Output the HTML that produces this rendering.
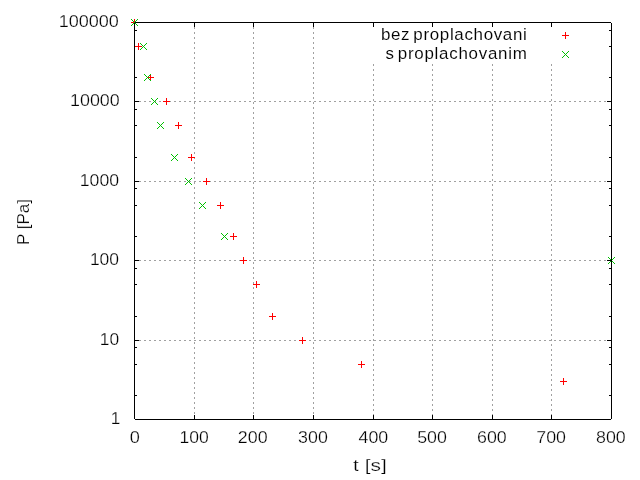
<!DOCTYPE html>
<html><head><meta charset="utf-8"><title>plot</title>
<style>html,body{margin:0;padding:0;background:#fff;}svg{display:block;}text{font-family:"Liberation Sans",sans-serif;fill:#000;stroke:#fff;stroke-width:0.25px;}svg{will-change:transform;}</style>
</head><body>
<svg width="640" height="480" viewBox="0 0 640 480">
<rect x="0" y="0" width="640" height="480" fill="#fff"/>
<g fill="#a0a0a0" shape-rendering="crispEdges">
<path d="M134 340h2v1h-2zM139 340h2v1h-2zM144 340h2v1h-2zM149 340h2v1h-2zM154 340h2v1h-2zM159 340h2v1h-2zM164 340h2v1h-2zM169 340h2v1h-2zM174 340h2v1h-2zM179 340h2v1h-2zM184 340h2v1h-2zM189 340h2v1h-2zM194 340h2v1h-2zM199 340h2v1h-2zM204 340h2v1h-2zM209 340h2v1h-2zM214 340h2v1h-2zM219 340h2v1h-2zM224 340h2v1h-2zM229 340h2v1h-2zM234 340h2v1h-2zM239 340h2v1h-2zM244 340h2v1h-2zM249 340h2v1h-2zM254 340h2v1h-2zM259 340h2v1h-2zM264 340h2v1h-2zM269 340h2v1h-2zM274 340h2v1h-2zM279 340h2v1h-2zM284 340h2v1h-2zM289 340h2v1h-2zM294 340h2v1h-2zM299 340h2v1h-2zM304 340h2v1h-2zM309 340h2v1h-2zM314 340h2v1h-2zM319 340h2v1h-2zM324 340h2v1h-2zM329 340h2v1h-2zM334 340h2v1h-2zM339 340h2v1h-2zM344 340h2v1h-2zM349 340h2v1h-2zM354 340h2v1h-2zM359 340h2v1h-2zM364 340h2v1h-2zM369 340h2v1h-2zM374 340h2v1h-2zM379 340h2v1h-2zM384 340h2v1h-2zM389 340h2v1h-2zM394 340h2v1h-2zM399 340h2v1h-2zM404 340h2v1h-2zM409 340h2v1h-2zM414 340h2v1h-2zM419 340h2v1h-2zM424 340h2v1h-2zM429 340h2v1h-2zM434 340h2v1h-2zM439 340h2v1h-2zM444 340h2v1h-2zM449 340h2v1h-2zM454 340h2v1h-2zM459 340h2v1h-2zM464 340h2v1h-2zM469 340h2v1h-2zM474 340h2v1h-2zM479 340h2v1h-2zM484 340h2v1h-2zM489 340h2v1h-2zM494 340h2v1h-2zM499 340h2v1h-2zM504 340h2v1h-2zM509 340h2v1h-2zM514 340h2v1h-2zM519 340h2v1h-2zM524 340h2v1h-2zM529 340h2v1h-2zM534 340h2v1h-2zM539 340h2v1h-2zM544 340h2v1h-2zM549 340h2v1h-2zM554 340h2v1h-2zM559 340h2v1h-2zM564 340h2v1h-2zM569 340h2v1h-2zM574 340h2v1h-2zM579 340h2v1h-2zM584 340h2v1h-2zM589 340h2v1h-2zM594 340h2v1h-2zM599 340h2v1h-2zM604 340h2v1h-2zM609 340h2v1h-2zM134 260h2v1h-2zM139 260h2v1h-2zM144 260h2v1h-2zM149 260h2v1h-2zM154 260h2v1h-2zM159 260h2v1h-2zM164 260h2v1h-2zM169 260h2v1h-2zM174 260h2v1h-2zM179 260h2v1h-2zM184 260h2v1h-2zM189 260h2v1h-2zM194 260h2v1h-2zM199 260h2v1h-2zM204 260h2v1h-2zM209 260h2v1h-2zM214 260h2v1h-2zM219 260h2v1h-2zM224 260h2v1h-2zM229 260h2v1h-2zM234 260h2v1h-2zM239 260h2v1h-2zM244 260h2v1h-2zM249 260h2v1h-2zM254 260h2v1h-2zM259 260h2v1h-2zM264 260h2v1h-2zM269 260h2v1h-2zM274 260h2v1h-2zM279 260h2v1h-2zM284 260h2v1h-2zM289 260h2v1h-2zM294 260h2v1h-2zM299 260h2v1h-2zM304 260h2v1h-2zM309 260h2v1h-2zM314 260h2v1h-2zM319 260h2v1h-2zM324 260h2v1h-2zM329 260h2v1h-2zM334 260h2v1h-2zM339 260h2v1h-2zM344 260h2v1h-2zM349 260h2v1h-2zM354 260h2v1h-2zM359 260h2v1h-2zM364 260h2v1h-2zM369 260h2v1h-2zM374 260h2v1h-2zM379 260h2v1h-2zM384 260h2v1h-2zM389 260h2v1h-2zM394 260h2v1h-2zM399 260h2v1h-2zM404 260h2v1h-2zM409 260h2v1h-2zM414 260h2v1h-2zM419 260h2v1h-2zM424 260h2v1h-2zM429 260h2v1h-2zM434 260h2v1h-2zM439 260h2v1h-2zM444 260h2v1h-2zM449 260h2v1h-2zM454 260h2v1h-2zM459 260h2v1h-2zM464 260h2v1h-2zM469 260h2v1h-2zM474 260h2v1h-2zM479 260h2v1h-2zM484 260h2v1h-2zM489 260h2v1h-2zM494 260h2v1h-2zM499 260h2v1h-2zM504 260h2v1h-2zM509 260h2v1h-2zM514 260h2v1h-2zM519 260h2v1h-2zM524 260h2v1h-2zM529 260h2v1h-2zM534 260h2v1h-2zM539 260h2v1h-2zM544 260h2v1h-2zM549 260h2v1h-2zM554 260h2v1h-2zM559 260h2v1h-2zM564 260h2v1h-2zM569 260h2v1h-2zM574 260h2v1h-2zM579 260h2v1h-2zM584 260h2v1h-2zM589 260h2v1h-2zM594 260h2v1h-2zM599 260h2v1h-2zM604 260h2v1h-2zM609 260h2v1h-2zM134 181h2v1h-2zM139 181h2v1h-2zM144 181h2v1h-2zM149 181h2v1h-2zM154 181h2v1h-2zM159 181h2v1h-2zM164 181h2v1h-2zM169 181h2v1h-2zM174 181h2v1h-2zM179 181h2v1h-2zM184 181h2v1h-2zM189 181h2v1h-2zM194 181h2v1h-2zM199 181h2v1h-2zM204 181h2v1h-2zM209 181h2v1h-2zM214 181h2v1h-2zM219 181h2v1h-2zM224 181h2v1h-2zM229 181h2v1h-2zM234 181h2v1h-2zM239 181h2v1h-2zM244 181h2v1h-2zM249 181h2v1h-2zM254 181h2v1h-2zM259 181h2v1h-2zM264 181h2v1h-2zM269 181h2v1h-2zM274 181h2v1h-2zM279 181h2v1h-2zM284 181h2v1h-2zM289 181h2v1h-2zM294 181h2v1h-2zM299 181h2v1h-2zM304 181h2v1h-2zM309 181h2v1h-2zM314 181h2v1h-2zM319 181h2v1h-2zM324 181h2v1h-2zM329 181h2v1h-2zM334 181h2v1h-2zM339 181h2v1h-2zM344 181h2v1h-2zM349 181h2v1h-2zM354 181h2v1h-2zM359 181h2v1h-2zM364 181h2v1h-2zM369 181h2v1h-2zM374 181h2v1h-2zM379 181h2v1h-2zM384 181h2v1h-2zM389 181h2v1h-2zM394 181h2v1h-2zM399 181h2v1h-2zM404 181h2v1h-2zM409 181h2v1h-2zM414 181h2v1h-2zM419 181h2v1h-2zM424 181h2v1h-2zM429 181h2v1h-2zM434 181h2v1h-2zM439 181h2v1h-2zM444 181h2v1h-2zM449 181h2v1h-2zM454 181h2v1h-2zM459 181h2v1h-2zM464 181h2v1h-2zM469 181h2v1h-2zM474 181h2v1h-2zM479 181h2v1h-2zM484 181h2v1h-2zM489 181h2v1h-2zM494 181h2v1h-2zM499 181h2v1h-2zM504 181h2v1h-2zM509 181h2v1h-2zM514 181h2v1h-2zM519 181h2v1h-2zM524 181h2v1h-2zM529 181h2v1h-2zM534 181h2v1h-2zM539 181h2v1h-2zM544 181h2v1h-2zM549 181h2v1h-2zM554 181h2v1h-2zM559 181h2v1h-2zM564 181h2v1h-2zM569 181h2v1h-2zM574 181h2v1h-2zM579 181h2v1h-2zM584 181h2v1h-2zM589 181h2v1h-2zM594 181h2v1h-2zM599 181h2v1h-2zM604 181h2v1h-2zM609 181h2v1h-2zM134 101h2v1h-2zM139 101h2v1h-2zM144 101h2v1h-2zM149 101h2v1h-2zM154 101h2v1h-2zM159 101h2v1h-2zM164 101h2v1h-2zM169 101h2v1h-2zM174 101h2v1h-2zM179 101h2v1h-2zM184 101h2v1h-2zM189 101h2v1h-2zM194 101h2v1h-2zM199 101h2v1h-2zM204 101h2v1h-2zM209 101h2v1h-2zM214 101h2v1h-2zM219 101h2v1h-2zM224 101h2v1h-2zM229 101h2v1h-2zM234 101h2v1h-2zM239 101h2v1h-2zM244 101h2v1h-2zM249 101h2v1h-2zM254 101h2v1h-2zM259 101h2v1h-2zM264 101h2v1h-2zM269 101h2v1h-2zM274 101h2v1h-2zM279 101h2v1h-2zM284 101h2v1h-2zM289 101h2v1h-2zM294 101h2v1h-2zM299 101h2v1h-2zM304 101h2v1h-2zM309 101h2v1h-2zM314 101h2v1h-2zM319 101h2v1h-2zM324 101h2v1h-2zM329 101h2v1h-2zM334 101h2v1h-2zM339 101h2v1h-2zM344 101h2v1h-2zM349 101h2v1h-2zM354 101h2v1h-2zM359 101h2v1h-2zM364 101h2v1h-2zM369 101h2v1h-2zM374 101h2v1h-2zM379 101h2v1h-2zM384 101h2v1h-2zM389 101h2v1h-2zM394 101h2v1h-2zM399 101h2v1h-2zM404 101h2v1h-2zM409 101h2v1h-2zM414 101h2v1h-2zM419 101h2v1h-2zM424 101h2v1h-2zM429 101h2v1h-2zM434 101h2v1h-2zM439 101h2v1h-2zM444 101h2v1h-2zM449 101h2v1h-2zM454 101h2v1h-2zM459 101h2v1h-2zM464 101h2v1h-2zM469 101h2v1h-2zM474 101h2v1h-2zM479 101h2v1h-2zM484 101h2v1h-2zM489 101h2v1h-2zM494 101h2v1h-2zM499 101h2v1h-2zM504 101h2v1h-2zM509 101h2v1h-2zM514 101h2v1h-2zM519 101h2v1h-2zM524 101h2v1h-2zM529 101h2v1h-2zM534 101h2v1h-2zM539 101h2v1h-2zM544 101h2v1h-2zM549 101h2v1h-2zM554 101h2v1h-2zM559 101h2v1h-2zM564 101h2v1h-2zM569 101h2v1h-2zM574 101h2v1h-2zM579 101h2v1h-2zM584 101h2v1h-2zM589 101h2v1h-2zM594 101h2v1h-2zM599 101h2v1h-2zM604 101h2v1h-2zM609 101h2v1h-2zM194 22v2h1v-2zM194 27v2h1v-2zM194 32v2h1v-2zM194 37v2h1v-2zM194 42v2h1v-2zM194 47v2h1v-2zM194 52v2h1v-2zM194 57v2h1v-2zM194 62v2h1v-2zM194 67v2h1v-2zM194 72v2h1v-2zM194 77v2h1v-2zM194 82v2h1v-2zM194 87v2h1v-2zM194 92v2h1v-2zM194 97v2h1v-2zM194 102v2h1v-2zM194 107v2h1v-2zM194 112v2h1v-2zM194 117v2h1v-2zM194 122v2h1v-2zM194 127v2h1v-2zM194 132v2h1v-2zM194 137v2h1v-2zM194 142v2h1v-2zM194 147v2h1v-2zM194 152v2h1v-2zM194 157v2h1v-2zM194 162v2h1v-2zM194 167v2h1v-2zM194 172v2h1v-2zM194 177v2h1v-2zM194 182v2h1v-2zM194 187v2h1v-2zM194 192v2h1v-2zM194 197v2h1v-2zM194 202v2h1v-2zM194 207v2h1v-2zM194 212v2h1v-2zM194 217v2h1v-2zM194 222v2h1v-2zM194 227v2h1v-2zM194 232v2h1v-2zM194 237v2h1v-2zM194 242v2h1v-2zM194 247v2h1v-2zM194 252v2h1v-2zM194 257v2h1v-2zM194 262v2h1v-2zM194 267v2h1v-2zM194 272v2h1v-2zM194 277v2h1v-2zM194 282v2h1v-2zM194 287v2h1v-2zM194 292v2h1v-2zM194 297v2h1v-2zM194 302v2h1v-2zM194 307v2h1v-2zM194 312v2h1v-2zM194 317v2h1v-2zM194 322v2h1v-2zM194 327v2h1v-2zM194 332v2h1v-2zM194 337v2h1v-2zM194 342v2h1v-2zM194 347v2h1v-2zM194 352v2h1v-2zM194 357v2h1v-2zM194 362v2h1v-2zM194 367v2h1v-2zM194 372v2h1v-2zM194 377v2h1v-2zM194 382v2h1v-2zM194 387v2h1v-2zM194 392v2h1v-2zM194 397v2h1v-2zM194 402v2h1v-2zM194 407v2h1v-2zM194 412v2h1v-2zM194 417v2h1v-2zM253 22v2h1v-2zM253 27v2h1v-2zM253 32v2h1v-2zM253 37v2h1v-2zM253 42v2h1v-2zM253 47v2h1v-2zM253 52v2h1v-2zM253 57v2h1v-2zM253 62v2h1v-2zM253 67v2h1v-2zM253 72v2h1v-2zM253 77v2h1v-2zM253 82v2h1v-2zM253 87v2h1v-2zM253 92v2h1v-2zM253 97v2h1v-2zM253 102v2h1v-2zM253 107v2h1v-2zM253 112v2h1v-2zM253 117v2h1v-2zM253 122v2h1v-2zM253 127v2h1v-2zM253 132v2h1v-2zM253 137v2h1v-2zM253 142v2h1v-2zM253 147v2h1v-2zM253 152v2h1v-2zM253 157v2h1v-2zM253 162v2h1v-2zM253 167v2h1v-2zM253 172v2h1v-2zM253 177v2h1v-2zM253 182v2h1v-2zM253 187v2h1v-2zM253 192v2h1v-2zM253 197v2h1v-2zM253 202v2h1v-2zM253 207v2h1v-2zM253 212v2h1v-2zM253 217v2h1v-2zM253 222v2h1v-2zM253 227v2h1v-2zM253 232v2h1v-2zM253 237v2h1v-2zM253 242v2h1v-2zM253 247v2h1v-2zM253 252v2h1v-2zM253 257v2h1v-2zM253 262v2h1v-2zM253 267v2h1v-2zM253 272v2h1v-2zM253 277v2h1v-2zM253 282v2h1v-2zM253 287v2h1v-2zM253 292v2h1v-2zM253 297v2h1v-2zM253 302v2h1v-2zM253 307v2h1v-2zM253 312v2h1v-2zM253 317v2h1v-2zM253 322v2h1v-2zM253 327v2h1v-2zM253 332v2h1v-2zM253 337v2h1v-2zM253 342v2h1v-2zM253 347v2h1v-2zM253 352v2h1v-2zM253 357v2h1v-2zM253 362v2h1v-2zM253 367v2h1v-2zM253 372v2h1v-2zM253 377v2h1v-2zM253 382v2h1v-2zM253 387v2h1v-2zM253 392v2h1v-2zM253 397v2h1v-2zM253 402v2h1v-2zM253 407v2h1v-2zM253 412v2h1v-2zM253 417v2h1v-2zM313 22v2h1v-2zM313 27v2h1v-2zM313 32v2h1v-2zM313 37v2h1v-2zM313 42v2h1v-2zM313 47v2h1v-2zM313 52v2h1v-2zM313 57v2h1v-2zM313 62v2h1v-2zM313 67v2h1v-2zM313 72v2h1v-2zM313 77v2h1v-2zM313 82v2h1v-2zM313 87v2h1v-2zM313 92v2h1v-2zM313 97v2h1v-2zM313 102v2h1v-2zM313 107v2h1v-2zM313 112v2h1v-2zM313 117v2h1v-2zM313 122v2h1v-2zM313 127v2h1v-2zM313 132v2h1v-2zM313 137v2h1v-2zM313 142v2h1v-2zM313 147v2h1v-2zM313 152v2h1v-2zM313 157v2h1v-2zM313 162v2h1v-2zM313 167v2h1v-2zM313 172v2h1v-2zM313 177v2h1v-2zM313 182v2h1v-2zM313 187v2h1v-2zM313 192v2h1v-2zM313 197v2h1v-2zM313 202v2h1v-2zM313 207v2h1v-2zM313 212v2h1v-2zM313 217v2h1v-2zM313 222v2h1v-2zM313 227v2h1v-2zM313 232v2h1v-2zM313 237v2h1v-2zM313 242v2h1v-2zM313 247v2h1v-2zM313 252v2h1v-2zM313 257v2h1v-2zM313 262v2h1v-2zM313 267v2h1v-2zM313 272v2h1v-2zM313 277v2h1v-2zM313 282v2h1v-2zM313 287v2h1v-2zM313 292v2h1v-2zM313 297v2h1v-2zM313 302v2h1v-2zM313 307v2h1v-2zM313 312v2h1v-2zM313 317v2h1v-2zM313 322v2h1v-2zM313 327v2h1v-2zM313 332v2h1v-2zM313 337v2h1v-2zM313 342v2h1v-2zM313 347v2h1v-2zM313 352v2h1v-2zM313 357v2h1v-2zM313 362v2h1v-2zM313 367v2h1v-2zM313 372v2h1v-2zM313 377v2h1v-2zM313 382v2h1v-2zM313 387v2h1v-2zM313 392v2h1v-2zM313 397v2h1v-2zM313 402v2h1v-2zM313 407v2h1v-2zM313 412v2h1v-2zM313 417v2h1v-2zM373 64v2h1v-2zM373 69v2h1v-2zM373 74v2h1v-2zM373 79v2h1v-2zM373 84v2h1v-2zM373 89v2h1v-2zM373 94v2h1v-2zM373 99v2h1v-2zM373 104v2h1v-2zM373 109v2h1v-2zM373 114v2h1v-2zM373 119v2h1v-2zM373 124v2h1v-2zM373 129v2h1v-2zM373 134v2h1v-2zM373 139v2h1v-2zM373 144v2h1v-2zM373 149v2h1v-2zM373 154v2h1v-2zM373 159v2h1v-2zM373 164v2h1v-2zM373 169v2h1v-2zM373 174v2h1v-2zM373 179v2h1v-2zM373 184v2h1v-2zM373 189v2h1v-2zM373 194v2h1v-2zM373 199v2h1v-2zM373 204v2h1v-2zM373 209v2h1v-2zM373 214v2h1v-2zM373 219v2h1v-2zM373 224v2h1v-2zM373 229v2h1v-2zM373 234v2h1v-2zM373 239v2h1v-2zM373 244v2h1v-2zM373 249v2h1v-2zM373 254v2h1v-2zM373 259v2h1v-2zM373 264v2h1v-2zM373 269v2h1v-2zM373 274v2h1v-2zM373 279v2h1v-2zM373 284v2h1v-2zM373 289v2h1v-2zM373 294v2h1v-2zM373 299v2h1v-2zM373 304v2h1v-2zM373 309v2h1v-2zM373 314v2h1v-2zM373 319v2h1v-2zM373 324v2h1v-2zM373 329v2h1v-2zM373 334v2h1v-2zM373 339v2h1v-2zM373 344v2h1v-2zM373 349v2h1v-2zM373 354v2h1v-2zM373 359v2h1v-2zM373 364v2h1v-2zM373 369v2h1v-2zM373 374v2h1v-2zM373 379v2h1v-2zM373 384v2h1v-2zM373 389v2h1v-2zM373 394v2h1v-2zM373 399v2h1v-2zM373 404v2h1v-2zM373 409v2h1v-2zM373 414v2h1v-2zM373 419v1h1v-1zM432 64v2h1v-2zM432 69v2h1v-2zM432 74v2h1v-2zM432 79v2h1v-2zM432 84v2h1v-2zM432 89v2h1v-2zM432 94v2h1v-2zM432 99v2h1v-2zM432 104v2h1v-2zM432 109v2h1v-2zM432 114v2h1v-2zM432 119v2h1v-2zM432 124v2h1v-2zM432 129v2h1v-2zM432 134v2h1v-2zM432 139v2h1v-2zM432 144v2h1v-2zM432 149v2h1v-2zM432 154v2h1v-2zM432 159v2h1v-2zM432 164v2h1v-2zM432 169v2h1v-2zM432 174v2h1v-2zM432 179v2h1v-2zM432 184v2h1v-2zM432 189v2h1v-2zM432 194v2h1v-2zM432 199v2h1v-2zM432 204v2h1v-2zM432 209v2h1v-2zM432 214v2h1v-2zM432 219v2h1v-2zM432 224v2h1v-2zM432 229v2h1v-2zM432 234v2h1v-2zM432 239v2h1v-2zM432 244v2h1v-2zM432 249v2h1v-2zM432 254v2h1v-2zM432 259v2h1v-2zM432 264v2h1v-2zM432 269v2h1v-2zM432 274v2h1v-2zM432 279v2h1v-2zM432 284v2h1v-2zM432 289v2h1v-2zM432 294v2h1v-2zM432 299v2h1v-2zM432 304v2h1v-2zM432 309v2h1v-2zM432 314v2h1v-2zM432 319v2h1v-2zM432 324v2h1v-2zM432 329v2h1v-2zM432 334v2h1v-2zM432 339v2h1v-2zM432 344v2h1v-2zM432 349v2h1v-2zM432 354v2h1v-2zM432 359v2h1v-2zM432 364v2h1v-2zM432 369v2h1v-2zM432 374v2h1v-2zM432 379v2h1v-2zM432 384v2h1v-2zM432 389v2h1v-2zM432 394v2h1v-2zM432 399v2h1v-2zM432 404v2h1v-2zM432 409v2h1v-2zM432 414v2h1v-2zM432 419v1h1v-1zM492 64v2h1v-2zM492 69v2h1v-2zM492 74v2h1v-2zM492 79v2h1v-2zM492 84v2h1v-2zM492 89v2h1v-2zM492 94v2h1v-2zM492 99v2h1v-2zM492 104v2h1v-2zM492 109v2h1v-2zM492 114v2h1v-2zM492 119v2h1v-2zM492 124v2h1v-2zM492 129v2h1v-2zM492 134v2h1v-2zM492 139v2h1v-2zM492 144v2h1v-2zM492 149v2h1v-2zM492 154v2h1v-2zM492 159v2h1v-2zM492 164v2h1v-2zM492 169v2h1v-2zM492 174v2h1v-2zM492 179v2h1v-2zM492 184v2h1v-2zM492 189v2h1v-2zM492 194v2h1v-2zM492 199v2h1v-2zM492 204v2h1v-2zM492 209v2h1v-2zM492 214v2h1v-2zM492 219v2h1v-2zM492 224v2h1v-2zM492 229v2h1v-2zM492 234v2h1v-2zM492 239v2h1v-2zM492 244v2h1v-2zM492 249v2h1v-2zM492 254v2h1v-2zM492 259v2h1v-2zM492 264v2h1v-2zM492 269v2h1v-2zM492 274v2h1v-2zM492 279v2h1v-2zM492 284v2h1v-2zM492 289v2h1v-2zM492 294v2h1v-2zM492 299v2h1v-2zM492 304v2h1v-2zM492 309v2h1v-2zM492 314v2h1v-2zM492 319v2h1v-2zM492 324v2h1v-2zM492 329v2h1v-2zM492 334v2h1v-2zM492 339v2h1v-2zM492 344v2h1v-2zM492 349v2h1v-2zM492 354v2h1v-2zM492 359v2h1v-2zM492 364v2h1v-2zM492 369v2h1v-2zM492 374v2h1v-2zM492 379v2h1v-2zM492 384v2h1v-2zM492 389v2h1v-2zM492 394v2h1v-2zM492 399v2h1v-2zM492 404v2h1v-2zM492 409v2h1v-2zM492 414v2h1v-2zM492 419v1h1v-1zM551 64v2h1v-2zM551 69v2h1v-2zM551 74v2h1v-2zM551 79v2h1v-2zM551 84v2h1v-2zM551 89v2h1v-2zM551 94v2h1v-2zM551 99v2h1v-2zM551 104v2h1v-2zM551 109v2h1v-2zM551 114v2h1v-2zM551 119v2h1v-2zM551 124v2h1v-2zM551 129v2h1v-2zM551 134v2h1v-2zM551 139v2h1v-2zM551 144v2h1v-2zM551 149v2h1v-2zM551 154v2h1v-2zM551 159v2h1v-2zM551 164v2h1v-2zM551 169v2h1v-2zM551 174v2h1v-2zM551 179v2h1v-2zM551 184v2h1v-2zM551 189v2h1v-2zM551 194v2h1v-2zM551 199v2h1v-2zM551 204v2h1v-2zM551 209v2h1v-2zM551 214v2h1v-2zM551 219v2h1v-2zM551 224v2h1v-2zM551 229v2h1v-2zM551 234v2h1v-2zM551 239v2h1v-2zM551 244v2h1v-2zM551 249v2h1v-2zM551 254v2h1v-2zM551 259v2h1v-2zM551 264v2h1v-2zM551 269v2h1v-2zM551 274v2h1v-2zM551 279v2h1v-2zM551 284v2h1v-2zM551 289v2h1v-2zM551 294v2h1v-2zM551 299v2h1v-2zM551 304v2h1v-2zM551 309v2h1v-2zM551 314v2h1v-2zM551 319v2h1v-2zM551 324v2h1v-2zM551 329v2h1v-2zM551 334v2h1v-2zM551 339v2h1v-2zM551 344v2h1v-2zM551 349v2h1v-2zM551 354v2h1v-2zM551 359v2h1v-2zM551 364v2h1v-2zM551 369v2h1v-2zM551 374v2h1v-2zM551 379v2h1v-2zM551 384v2h1v-2zM551 389v2h1v-2zM551 394v2h1v-2zM551 399v2h1v-2zM551 404v2h1v-2zM551 409v2h1v-2zM551 414v2h1v-2zM551 419v1h1v-1z"/>
</g>
<path shape-rendering="crispEdges" fill="#000" d="M194 415h1v4h-1zM194 23h1v4h-1zM253 415h1v4h-1zM253 23h1v4h-1zM313 415h1v4h-1zM313 23h1v4h-1zM373 415h1v4h-1zM373 23h1v4h-1zM432 415h1v4h-1zM432 23h1v4h-1zM492 415h1v4h-1zM492 23h1v4h-1zM551 415h1v4h-1zM551 23h1v4h-1zM135 395h2v1h-2zM609 395h2v1h-2zM135 364h2v1h-2zM609 364h2v1h-2zM135 347h2v1h-2zM609 347h2v1h-2zM135 340h4v1h-4zM607 340h4v1h-4zM135 316h2v1h-2zM609 316h2v1h-2zM135 284h2v1h-2zM609 284h2v1h-2zM135 268h2v1h-2zM609 268h2v1h-2zM135 260h4v1h-4zM607 260h4v1h-4zM135 236h2v1h-2zM609 236h2v1h-2zM135 205h2v1h-2zM609 205h2v1h-2zM135 188h2v1h-2zM609 188h2v1h-2zM135 181h4v1h-4zM607 181h4v1h-4zM135 157h2v1h-2zM609 157h2v1h-2zM135 125h2v1h-2zM609 125h2v1h-2zM135 109h2v1h-2zM609 109h2v1h-2zM135 101h4v1h-4zM607 101h4v1h-4zM135 77h2v1h-2zM609 77h2v1h-2zM135 46h2v1h-2zM609 46h2v1h-2zM135 30h2v1h-2zM609 30h2v1h-2z"/>
<path shape-rendering="crispEdges" fill="#ff0000" d="M131 22h7v1h-7zM134 19h1v7h-1zM135 46h7v1h-7zM138 43h1v7h-1zM147 77h7v1h-7zM150 74h1v7h-1zM163 101h7v1h-7zM166 98h1v7h-1zM175 125h7v1h-7zM178 122h1v7h-1zM188 157h7v1h-7zM191 154h1v7h-1zM203 181h7v1h-7zM206 178h1v7h-1zM217 205h7v1h-7zM220 202h1v7h-1zM230 236h7v1h-7zM233 233h1v7h-1zM240 260h7v1h-7zM243 257h1v7h-1zM253 284h7v1h-7zM256 281h1v7h-1zM269 316h7v1h-7zM272 313h1v7h-1zM299 340h7v1h-7zM302 337h1v7h-1zM358 364h7v1h-7zM361 361h1v7h-1zM560 381h7v1h-7zM563 378h1v7h-1zM562 35h7v1h-7zM565 32h1v7h-1z"/>
<path shape-rendering="crispEdges" fill="#00c000" d="M131 19h1v1h-1zM131 25h1v1h-1zM132 20h1v1h-1zM132 24h1v1h-1zM133 21h1v1h-1zM133 23h1v1h-1zM134 22h1v1h-1zM135 23h1v1h-1zM135 21h1v1h-1zM136 24h1v1h-1zM136 20h1v1h-1zM137 25h1v1h-1zM137 19h1v1h-1zM140 43h1v1h-1zM140 49h1v1h-1zM141 44h1v1h-1zM141 48h1v1h-1zM142 45h1v1h-1zM142 47h1v1h-1zM143 46h1v1h-1zM144 47h1v1h-1zM144 45h1v1h-1zM145 48h1v1h-1zM145 44h1v1h-1zM146 49h1v1h-1zM146 43h1v1h-1zM144 74h1v1h-1zM144 80h1v1h-1zM145 75h1v1h-1zM145 79h1v1h-1zM146 76h1v1h-1zM146 78h1v1h-1zM147 77h1v1h-1zM148 78h1v1h-1zM148 76h1v1h-1zM149 79h1v1h-1zM149 75h1v1h-1zM150 80h1v1h-1zM150 74h1v1h-1zM151 98h1v1h-1zM151 104h1v1h-1zM152 99h1v1h-1zM152 103h1v1h-1zM153 100h1v1h-1zM153 102h1v1h-1zM154 101h1v1h-1zM155 102h1v1h-1zM155 100h1v1h-1zM156 103h1v1h-1zM156 99h1v1h-1zM157 104h1v1h-1zM157 98h1v1h-1zM157 122h1v1h-1zM157 128h1v1h-1zM158 123h1v1h-1zM158 127h1v1h-1zM159 124h1v1h-1zM159 126h1v1h-1zM160 125h1v1h-1zM161 126h1v1h-1zM161 124h1v1h-1zM162 127h1v1h-1zM162 123h1v1h-1zM163 128h1v1h-1zM163 122h1v1h-1zM171 154h1v1h-1zM171 160h1v1h-1zM172 155h1v1h-1zM172 159h1v1h-1zM173 156h1v1h-1zM173 158h1v1h-1zM174 157h1v1h-1zM175 158h1v1h-1zM175 156h1v1h-1zM176 159h1v1h-1zM176 155h1v1h-1zM177 160h1v1h-1zM177 154h1v1h-1zM185 178h1v1h-1zM185 184h1v1h-1zM186 179h1v1h-1zM186 183h1v1h-1zM187 180h1v1h-1zM187 182h1v1h-1zM188 181h1v1h-1zM189 182h1v1h-1zM189 180h1v1h-1zM190 183h1v1h-1zM190 179h1v1h-1zM191 184h1v1h-1zM191 178h1v1h-1zM199 202h1v1h-1zM199 208h1v1h-1zM200 203h1v1h-1zM200 207h1v1h-1zM201 204h1v1h-1zM201 206h1v1h-1zM202 205h1v1h-1zM203 206h1v1h-1zM203 204h1v1h-1zM204 207h1v1h-1zM204 203h1v1h-1zM205 208h1v1h-1zM205 202h1v1h-1zM221 233h1v1h-1zM221 239h1v1h-1zM222 234h1v1h-1zM222 238h1v1h-1zM223 235h1v1h-1zM223 237h1v1h-1zM224 236h1v1h-1zM225 237h1v1h-1zM225 235h1v1h-1zM226 238h1v1h-1zM226 234h1v1h-1zM227 239h1v1h-1zM227 233h1v1h-1zM608 257h1v1h-1zM608 263h1v1h-1zM609 258h1v1h-1zM609 262h1v1h-1zM610 259h1v1h-1zM610 261h1v1h-1zM611 260h1v1h-1zM612 261h1v1h-1zM612 259h1v1h-1zM613 262h1v1h-1zM613 258h1v1h-1zM614 263h1v1h-1zM614 257h1v1h-1zM562 51h1v1h-1zM562 57h1v1h-1zM563 52h1v1h-1zM563 56h1v1h-1zM564 53h1v1h-1zM564 55h1v1h-1zM565 54h1v1h-1zM566 55h1v1h-1zM566 53h1v1h-1zM567 56h1v1h-1zM567 52h1v1h-1zM568 57h1v1h-1zM568 51h1v1h-1z"/>
<path shape-rendering="crispEdges" fill="#000" d="M134 22h478v1h-478zM134 419h478v1h-478zM134 22v398h1v-398zM611 22v398h1v-398z"/>
<g style="opacity:0.999">
<text x="120.3" y="423.6" font-size="16.3" text-anchor="end" textLength="9.6" lengthAdjust="spacingAndGlyphs">1</text>
<text x="119.1" y="344.6" font-size="16.3" text-anchor="end" textLength="19.35" lengthAdjust="spacingAndGlyphs">10</text>
<text x="119.1" y="264.6" font-size="16.3" text-anchor="end" textLength="29.2" lengthAdjust="spacingAndGlyphs">100</text>
<text x="119.1" y="185.6" font-size="16.3" text-anchor="end" textLength="39.3" lengthAdjust="spacingAndGlyphs">1000</text>
<text x="119.7" y="105.6" font-size="16.3" text-anchor="end" textLength="49.6" lengthAdjust="spacingAndGlyphs">10000</text>
<text x="118.9" y="26.6" font-size="16.3" text-anchor="end" textLength="60.15" lengthAdjust="spacingAndGlyphs">100000</text>
<text x="134.85" y="442.8" font-size="16.3" text-anchor="middle" textLength="10.1" lengthAdjust="spacingAndGlyphs">0</text>
<text x="194.12" y="442.8" font-size="16.3" text-anchor="middle" textLength="29.3" lengthAdjust="spacingAndGlyphs">100</text>
<text x="252.75" y="442.8" font-size="16.3" text-anchor="middle" textLength="29.8" lengthAdjust="spacingAndGlyphs">200</text>
<text x="312.98" y="442.8" font-size="16.3" text-anchor="middle" textLength="29.7" lengthAdjust="spacingAndGlyphs">300</text>
<text x="373.4" y="442.8" font-size="16.3" text-anchor="middle" textLength="29.7" lengthAdjust="spacingAndGlyphs">400</text>
<text x="432.02" y="442.8" font-size="16.3" text-anchor="middle" textLength="29.7" lengthAdjust="spacingAndGlyphs">500</text>
<text x="491.85" y="442.8" font-size="16.3" text-anchor="middle" textLength="29.7" lengthAdjust="spacingAndGlyphs">600</text>
<text x="551.12" y="442.8" font-size="16.3" text-anchor="middle" textLength="29.7" lengthAdjust="spacingAndGlyphs">700</text>
<text x="610.9" y="442.8" font-size="16.3" text-anchor="middle" textLength="29.7" lengthAdjust="spacingAndGlyphs">800</text>
<text x="369.9" y="470.8" font-size="16.3" text-anchor="middle" textLength="33.7" lengthAdjust="spacingAndGlyphs">t [s]</text>
<text transform="translate(29.0,222.0) rotate(-90)" font-size="16.3" text-anchor="middle" textLength="46" lengthAdjust="spacingAndGlyphs">P [Pa]</text>
<text transform="translate(526.8,39.9) scale(1.04,1)" font-size="16.3" text-anchor="end" textLength="140.29" lengthAdjust="spacing" word-spacing="-2.2" style="stroke-width:0.08px">bez proplachovani</text>
<text transform="translate(526.8,58.5) scale(1.04,1)" font-size="16.3" text-anchor="end" textLength="135.96" lengthAdjust="spacing" word-spacing="-2.2" style="stroke-width:0.08px">s proplachovanim</text>
</g>
</svg></body></html>
